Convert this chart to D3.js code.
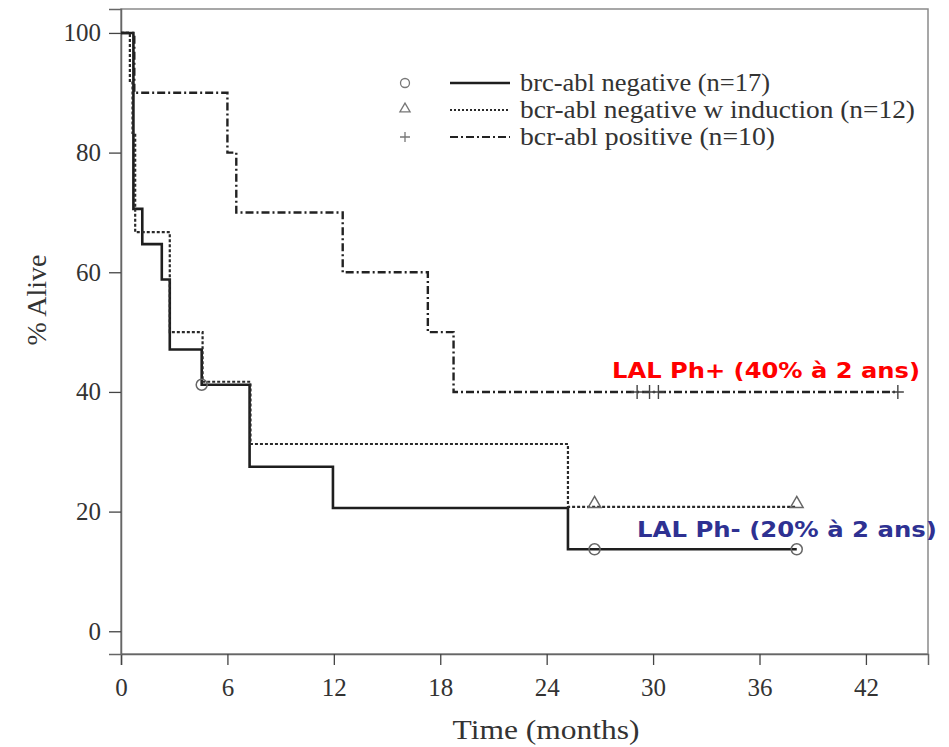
<!DOCTYPE html>
<html>
<head>
<meta charset="utf-8">
<script src="https://cdn.jsdelivr.net/npm/d3@7"></script>
<style>
  body { margin: 0; background: #fff; }
  svg { display: block; }
</style>
</head>
<body>
<svg id="chart" width="949" height="747"></svg>
<script>
// survival steps, [months, % alive]
var negSteps = [[0, 100], [0.7, 70.6], [1.2, 64.7], [2.3, 58.8], [2.75, 47.1], [4.55, 41.2], [7.25, 27.5], [11.95, 20.6], [25.2, 13.7], [38.1, 13.7]];
var negIndSteps = [[0, 100], [0.5, 91.7], [0.65, 83.3], [0.8, 66.7], [2.75, 50], [4.6, 41.7], [7.3, 31.3], [25.2, 20.8], [38.1, 20.8]];
var posSteps = [[0, 100], [0.75, 90], [6.0, 80], [6.5, 70], [12.5, 60], [17.3, 50], [18.75, 40], [43.8, 40]];

// censored patients
var negCensor = [[4.55, 41.2], [26.7, 13.7], [38.1, 13.7]];
var negIndCensor = [[26.7, 20.8], [38.1, 20.8]];
var posCensor = [[29.1, 40], [29.8, 40], [30.3, 40], [43.8, 40]];

var legendLabels = ["brc-abl negative (n=17)", "bcr-abl negative w induction (n=12)", "bcr-abl positive (n=10)"];
var xTicks = [0, 6, 12, 18, 24, 30, 36, 42];
var yTicks = [0, 20, 40, 60, 80, 100];

var svg = d3.select("#chart"),
	LEFT = 121, RIGHT = 928, TOP = 9, BOTTOM = 654;

var xScale = d3.scaleLinear().domain([0, 45.5]).range([LEFT, RIGHT]);
var yScale = d3.scaleLinear().domain([-3.8, 104]).range([BOTTOM, TOP]);

var serif = "'Liberation Serif', 'Times New Roman', serif";

// frame
svg.append("rect")
	.attr("x", LEFT).attr("y", TOP)
	.attr("width", RIGHT - LEFT).attr("height", BOTTOM - TOP)
	.attr("fill", "none").attr("stroke", "#8a8a8a").attr("stroke-width", 1.5);

// axes
var xAxis = d3.axisBottom(xScale).tickValues(xTicks).tickSize(11).tickPadding(13);
var yAxis = d3.axisLeft(yScale).tickValues(yTicks).tickSize(12).tickPadding(8);

var gx = svg.append("g")
	.attr("transform", "translate(0," + BOTTOM + ")")
	.call(xAxis);
var gy = svg.append("g")
	.attr("transform", "translate(" + LEFT + ",0)")
	.call(yAxis);

[gx, gy].forEach(function(g) {
	g.select(".domain").attr("stroke", "#666").attr("stroke-width", 1.5);
	g.selectAll(".tick line").attr("stroke", "#444").attr("stroke-width", 1.3);
	g.selectAll(".tick text")
		.attr("fill", "#333")
		.style("font-family", serif)
		.style("font-size", "25px");
});

svg.append("text")
	.attr("x", 546)
	.attr("y", 739)
	.attr("text-anchor", "middle")
	.attr("fill", "#333")
	.style("font-family", serif).style("font-size", "27px")
	.attr("textLength", 187).attr("lengthAdjust", "spacingAndGlyphs")
	.text("Time (months)");

svg.append("text")
	.attr("transform", "translate(46,300) rotate(-90)")
	.attr("text-anchor", "middle")
	.attr("fill", "#333")
	.style("font-family", serif).style("font-size", "28px")
	.text("% Alive");

// curves
var stepLine = d3.line()
	.x(function(d) { return xScale(d[0]); })
	.y(function(d) { return yScale(d[1]); })
	.curve(d3.curveStepAfter);

var styles = [
	{ data: negSteps, dash: null, width: 2.6, color: "#1e1e1e" },
	{ data: negIndSteps, dash: "3,2", width: 2.2, color: "#2a2a2a" },
	{ data: posSteps, dash: "8,3,2,3", width: 2.4, color: "#222" }
];

styles.forEach(function(s) {
	svg.append("path")
		.attr("d", stepLine(s.data))
		.attr("fill", "none")
		.attr("stroke", s.color)
		.attr("stroke-width", s.width)
		.attr("stroke-dasharray", s.dash);
});

// censor marks
svg.selectAll(".cens-circle").data(negCensor).enter().append("circle")
	.attr("cx", function(d) { return xScale(d[0]); })
	.attr("cy", function(d) { return yScale(d[1]); })
	.attr("r", 5.5)
	.attr("fill", "none").attr("stroke", "#666").attr("stroke-width", 1.5);

var tri = d3.symbol().type(d3.symbolTriangle).size(70);
svg.selectAll(".cens-tri").data(negIndCensor).enter().append("path")
	.attr("d", tri)
	.attr("transform", function(d) { return "translate(" + xScale(d[0]) + "," + (yScale(d[1]) - 3) + ")"; })
	.attr("fill", "none").attr("stroke", "#666").attr("stroke-width", 1.5);

svg.selectAll(".cens-plus").data(posCensor).enter().append("path")
	.attr("d", "M-6,0H6M0,-7V7")
	.attr("transform", function(d) { return "translate(" + xScale(d[0]) + "," + yScale(d[1]) + ")"; })
	.attr("fill", "none").attr("stroke", "#444").attr("stroke-width", 1.4);

// legend
var legendY = [83, 110, 137];
var legendWidths = [250, 395, 255];
var legend = svg.append("g");
legendLabels.forEach(function(label, i) {
	var y = legendY[i];
	legend.append("line")
		.attr("x1", 450).attr("x2", 510).attr("y1", y).attr("y2", y)
		.attr("stroke", styles[i].color)
		.attr("stroke-width", i == 0 ? 2.4 : 1.8)
		.attr("stroke-dasharray", i == 1 ? "2,2" : (i == 2 ? "8,3,2,3" : null));
	legend.append("text")
		.attr("x", 520).attr("y", y + 8)
		.attr("fill", "#333")
		.style("font-family", serif).style("font-size", "25px")
		.attr("textLength", legendWidths[i]).attr("lengthAdjust", "spacingAndGlyphs")
		.text(label);
});
legend.append("circle").attr("cx", 405).attr("cy", legendY[0])
	.attr("r", 4.5).attr("fill", "none").attr("stroke", "#777").attr("stroke-width", 1.3);
legend.append("path").attr("d", d3.symbol().type(d3.symbolTriangle).size(45))
	.attr("transform", "translate(405," + (legendY[1] - 1) + ")")
	.attr("fill", "none").attr("stroke", "#777").attr("stroke-width", 1.3);
legend.append("path").attr("d", "M-5,0H5M0,-5V5")
	.attr("transform", "translate(405," + legendY[2] + ")")
	.attr("fill", "none").attr("stroke", "#777").attr("stroke-width", 1.3);

// annotations
svg.append("text")
	.attr("x", 920).attr("y", 378)
	.attr("text-anchor", "end")
	.attr("fill", "#ff0000")
	.style("font-family", "'DejaVu Sans', sans-serif").style("font-size", "21px").style("font-weight", "bold")
	.attr("textLength", 308).attr("lengthAdjust", "spacingAndGlyphs")
	.text("LAL Ph+ (40% à 2 ans)");

svg.append("text")
	.attr("x", 937).attr("y", 537)
	.attr("text-anchor", "end")
	.attr("fill", "#2e3192")
	.style("font-family", "'DejaVu Sans', sans-serif").style("font-size", "21px").style("font-weight", "bold")
	.attr("textLength", 300).attr("lengthAdjust", "spacingAndGlyphs")
	.text("LAL Ph- (20% à 2 ans)");
</script>
</body>
</html>
